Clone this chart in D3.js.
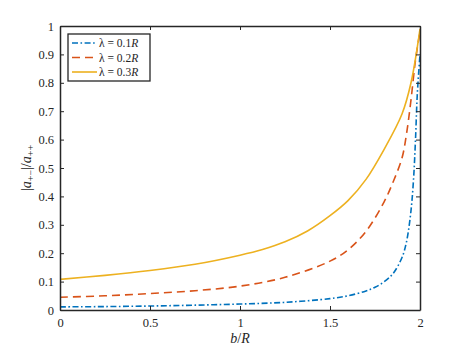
<!DOCTYPE html>
<html lang="en">
<head>
  <meta charset="UTF-8">
  <title>Ratio vs b/R</title>
  <style>
    body { margin: 0; background: #fff; }
    svg, svg text { font-family: "Liberation Serif", "DejaVu Serif", "Times New Roman", serif; }
    .axis path, .axis line { stroke: #262626; }
    .axis text { fill: #262626; font-size: 12.5px; }
    .line { fill: none; stroke-width: 1.6px; }
  </style>
</head>
<body>
<script src="https://d3js.org/d3.v7.min.js"></script>
<script>
// b/R sample positions and ratio values per lambda
const bBlue = [0, 0.25, 0.5, 0.75, 1.0, 1.25, 1.5, 1.6, 1.7, 1.75, 1.8, 1.85, 1.9, 1.925, 1.95, 1.965, 1.975, 1.985, 2.0]
const lambda01 = [0.011, 0.012, 0.014, 0.017, 0.021, 0.027, 0.040, 0.050, 0.067, 0.080, 0.099, 0.128, 0.185, 0.24, 0.35, 0.47, 0.60, 0.76, 0.90]

const bRed = [0, 0.25, 0.5, 0.75, 1.0, 1.25, 1.5, 1.6, 1.7, 1.8, 1.85, 1.9, 1.925, 1.95, 1.975, 2.0]
const lambda02 = [0.045, 0.050, 0.058, 0.068, 0.084, 0.115, 0.172, 0.212, 0.277, 0.38, 0.45, 0.535, 0.62, 0.74, 0.88, 0.98]

const bYellow = [0, 0.25, 0.5, 0.75, 1.0, 1.125, 1.25, 1.375, 1.5, 1.6, 1.7, 1.8, 1.9, 1.95, 2.0]
const lambda03 = [0.108, 0.122, 0.139, 0.161, 0.193, 0.213, 0.240, 0.278, 0.332, 0.385, 0.46, 0.565, 0.69, 0.80, 0.99]

const legendLabels = ['0.1', '0.2', '0.3']
const xTicks = [0, 0.5, 1, 1.5, 2]
const yTicks = [0, 0.1, 0.2, 0.3, 0.4, 0.5, 0.6, 0.7, 0.8, 0.9, 1]

const series = [
  { b: bBlue, v: lambda01, color: '#0072BD', dash: '6,2.5,1.6,2.5' },
  { b: bRed, v: lambda02, color: '#D95319', dash: '8,5' },
  { b: bYellow, v: lambda03, color: '#EDB120', dash: null }
]

const serif = '"Liberation Serif", "DejaVu Serif", serif'
const width = 463
const height = 348
const margin = { top: 26, right: 43, bottom: 38, left: 60 }
const w = width - margin.left - margin.right
const h = height - margin.top - margin.bottom

const svg = d3.select('body').append('svg')
  .attr('width', width)
  .attr('height', height)
  .attr('font-family', serif)

const g = svg.append('g')
  .attr('transform', `translate(${margin.left},${margin.top})`)

const x = d3.scaleLinear().domain([0, 2]).range([0, w])
const y = d3.scaleLinear().domain([0, 1]).range([h, 0])

const fmt = d => d3.format('')(d)

// lines
const line = d3.line()
  .x(d => x(d[0]))
  .y(d => y(d[1]))
  .curve(d3.curveCatmullRom.alpha(0.5))

g.append('defs').append('clipPath').attr('id', 'clip')
  .append('rect').attr('width', w).attr('height', h)

series.forEach(s => {
  g.append('path')
    .attr('class', 'line')
    .attr('clip-path', 'url(#clip)')
    .attr('stroke', s.color)
    .attr('stroke-dasharray', s.dash)
    .attr('d', line(s.b.map((b, i) => [b, s.v[i]])))
})

// axes, MATLAB style box with inward ticks
const tk = 4
g.append('g').attr('class', 'axis')
  .attr('transform', `translate(0,${h})`)
  .call(d3.axisBottom(x).tickValues(xTicks).tickFormat(fmt).tickSizeInner(-tk).tickSizeOuter(0).tickPadding(8))
g.append('g').attr('class', 'axis')
  .call(d3.axisLeft(y).tickValues(yTicks).tickFormat(fmt).tickSizeInner(-tk).tickSizeOuter(0).tickPadding(6))
g.append('g').attr('class', 'axis')
  .call(d3.axisTop(x).tickValues(xTicks).tickFormat('').tickSizeInner(-tk).tickSizeOuter(0))
g.append('g').attr('class', 'axis')
  .attr('transform', `translate(${w},0)`)
  .call(d3.axisRight(y).tickValues(yTicks).tickFormat('').tickSizeInner(-tk).tickSizeOuter(0))
g.selectAll('.axis').attr('font-family', serif).attr('font-size', 12.5)
g.selectAll('.axis path').attr('stroke-width', 1.5)
g.selectAll('.axis line').attr('stroke-width', 1)

// axis labels
const xl = svg.append('text')
  .attr('x', margin.left + w / 2)
  .attr('y', 343)
  .attr('text-anchor', 'middle')
  .attr('font-size', 14)
  .attr('fill', '#262626')
xl.append('tspan').attr('font-style', 'italic').text('b')
xl.append('tspan').text('/')
xl.append('tspan').attr('font-style', 'italic').text('R')

const yl = svg.append('text')
  .attr('transform', `translate(31,${margin.top + h / 2}) rotate(-90)`)
  .attr('text-anchor', 'middle')
  .attr('font-size', 14)
  .attr('fill', '#262626')
yl.append('tspan').text('|')
yl.append('tspan').attr('font-style', 'italic').text('a')
yl.append('tspan').attr('font-size', 10).attr('dy', 3).text('+−')
yl.append('tspan').attr('dy', -3).text('|/')
yl.append('tspan').attr('font-style', 'italic').text('a')
yl.append('tspan').attr('font-size', 10).attr('dy', 3).text('++')

// legend
const lg = svg.append('g').attr('transform', 'translate(68,34)')
lg.append('rect')
  .attr('width', 82).attr('height', 47)
  .attr('fill', '#fff').attr('stroke', '#262626').attr('stroke-width', 1.3)
series.forEach((s, i) => {
  const yy = 9 + i * 14.5
  lg.append('line')
    .attr('x1', 4).attr('x2', 29).attr('y1', yy).attr('y2', yy)
    .attr('stroke', s.color).attr('stroke-width', 1.6)
    .attr('stroke-dasharray', s.dash)
  const t = lg.append('text')
    .attr('x', 31).attr('y', yy + 4)
    .attr('font-size', 11.5).attr('fill', '#262626')
  t.append('tspan').text(`λ = ${legendLabels[i]}`)
  t.append('tspan').attr('font-style', 'italic').text('R')
})
</script>
</body>
</html>
